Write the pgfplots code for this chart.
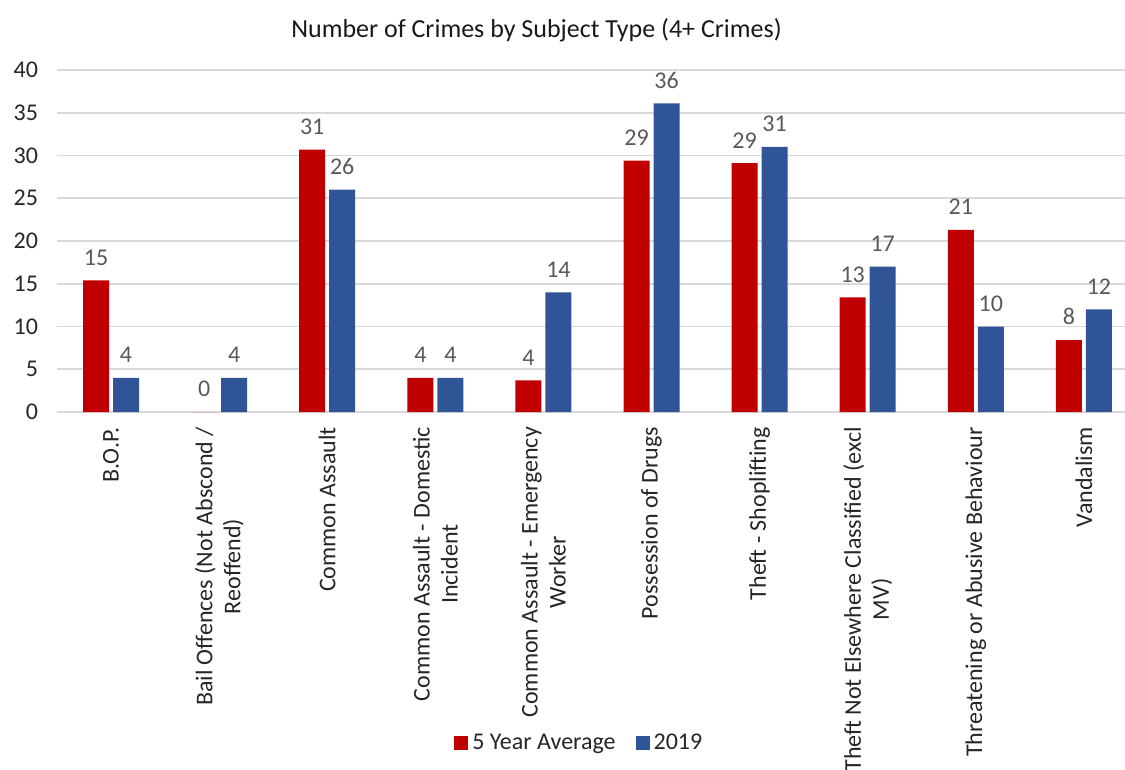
\documentclass[border=0pt]{standalone}
\usepackage{pgfplots}
\pgfplotsset{compat=1.18}
\usepackage{fontspec}
\setmainfont{Carlito}
\definecolor{myred}{HTML}{C00000}
\definecolor{myblue}{HTML}{2F5597}
\definecolor{gridgray}{HTML}{D9D9D9}
\definecolor{txtgray}{HTML}{595959}
\begin{document}
\begin{tikzpicture}
\useasboundingbox (-28.5pt,-179pt) rectangle (534pt,206pt);
\begin{axis}[
  ybar, bar width=13pt,
  at={(0,0)}, anchor=south west,
  scale only axis,
  width=534pt, height=171pt,
  xmin=-0.5, xmax=9.38,
  ymin=0, ymax=40,
  ytick={0,5,...,40},
  xtick={0,...,9},
  xticklabels={{B.O.P.},{Bail Offences (Not Abscond /\\Reoffend)},{Common Assault},{Common Assault - Domestic\\Incident},{Common Assault - Emergency\\Worker},{Possession of Drugs},{Theft - Shoplifting},{Theft Not Elsewhere Classified (excl\\MV)},{Threatening or Abusive Behaviour},{Vandalism}},
  x tick label style={rotate=90, anchor=east, align=center, font=\fontsize{12}{14}\selectfont, text=black!85, xshift=-4pt},
  y tick label style={font=\fontsize{12}{14}\selectfont, text=black!85, xshift=-6pt},
  /pgf/number format/assume math mode=true,
  major tick length=0pt,
  axis x line*=bottom,
  axis y line*=left,
  x axis line style={gridgray, line width=0.8pt},
  y axis line style={draw=none},
  ymajorgrids,
  grid style={gridgray, line width=0.8pt},
  title={Number of Crimes by Subject Type (4+ Crimes)},
  title style={at={(0.449,1)}, anchor=center, yshift=14pt, font=\fontsize{13}{15}\selectfont, text=black!90},
  legend style={at={(0.49,0)}, anchor=center, yshift=-165.5pt, draw=none, legend columns=2, font=\fontsize{12}{14}\selectfont, text=black!85, /tikz/every even column/.append style={column sep=8pt}},
  legend image code/.code={\fill[#1] (0pt,-3.5pt) rectangle (7pt,3.5pt);},
  nodes near coords={\pgfmathprintnumber[fixed,precision=0]{\pgfplotspointmeta}},
  every node near coord/.append style={font=\fontsize{12}{14}\selectfont, text=txtgray, yshift=4pt},
]
\addplot[fill=myred, draw=none, bar shift=-7.5pt] coordinates {
(0,15.4) (1,0) (2,30.7) (3,4) (4,3.7) (5,29.4) (6,29.1) (7,13.4) (8,21.3) (9,8.4)};
\addlegendentry{5 Year Average}
\addplot[fill=myblue, draw=none, bar shift=7.5pt] coordinates {
(0,4) (1,4) (2,26) (3,4) (4,14) (5,36.1) (6,31) (7,17) (8,10) (9,12)};
\addlegendentry{2019}
\end{axis}
\end{tikzpicture}
\end{document}
